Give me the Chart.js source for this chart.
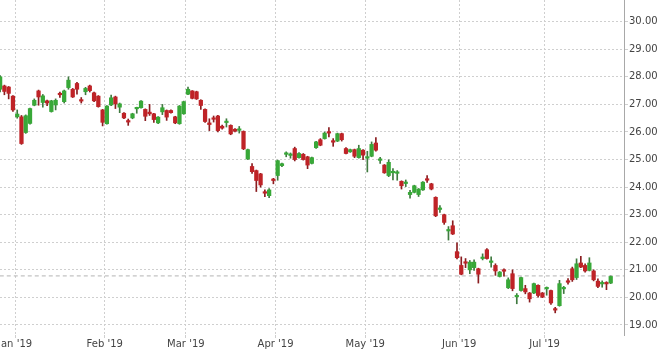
<!DOCTYPE html>
<html>
<head>
<meta charset="utf-8">
<script src="https://cdn.jsdelivr.net/npm/chart.js@4.4.1/dist/chart.umd.min.js"></script>
<style>
  html, body { margin: 0; padding: 0; background: #fff; }
  #wrap { width: 660px; height: 351px; }
</style>
</head>
<body>
<div id="wrap"><canvas id="priceChart" width="660" height="351"></canvas></div>
<script>
// daily candles, last days of Dec 2018 to late Jul 2019 (index = trading day)
const opens = [
  27.55, 27.67, 27.63, 27.30, 26.55, 26.55, 25.98, 26.31, 26.97, 27.49,
  27.07, 27.13, 26.74, 26.98, 27.38, 27.10, 27.61, 27.55, 27.76, 27.15,
  27.46, 27.67, 27.42, 27.30, 26.80, 26.30, 26.98, 27.27, 26.90, 26.68,
  26.39, 26.51, 26.84, 26.88, 26.82, 26.72, 26.66, 26.33, 26.73, 26.78,
  26.78, 26.55, 26.30, 26.66, 27.37, 27.49, 27.46, 27.15, 26.82, 26.33,
  26.50, 26.58, 26.21, 26.34, 26.24, 26.10, 26.06, 26.02, 25.02, 24.75,
  24.60, 24.48, 23.80, 23.69, 24.26, 24.42, 24.78, 25.19, 25.15, 25.40,
  25.07, 25.19, 25.10, 24.86, 25.43, 25.72, 25.76, 26.00, 25.66, 25.67,
  25.94, 25.40, 25.28, 25.36, 25.07, 25.34, 25.05, 25.12, 25.60, 24.97,
  24.80, 24.42, 24.52, 24.50, 24.21, 24.13, 23.73, 23.81, 23.73, 23.90,
  24.27, 24.12, 23.63, 23.19, 23.00, 22.41, 22.60, 21.66, 21.16, 21.26,
  21.00, 21.08, 21.04, 21.41, 21.73, 21.27, 21.16, 20.76, 20.97, 20.35,
  20.86, 20.02, 20.25, 20.32, 20.16, 20.16, 20.44, 20.16, 20.31, 20.25,
  19.56, 19.70, 20.31, 20.57, 21.04, 20.72, 21.25, 21.16, 20.98, 20.96,
  20.59, 20.49, 20.51, 20.52
];
const highs = [
  28.05, 27.70, 27.65, 27.32, 26.80, 26.60, 26.62, 26.87, 27.20, 27.52,
  27.36, 27.16, 27.15, 27.20, 27.45, 27.52, 28.00, 27.58, 27.80, 27.25,
  27.62, 27.70, 27.45, 27.32, 26.82, 26.96, 27.34, 27.30, 27.05, 26.70,
  26.47, 26.68, 26.90, 27.14, 26.84, 27.00, 26.68, 26.56, 27.00, 26.80,
  26.80, 26.57, 26.96, 27.12, 27.63, 27.50, 27.48, 27.17, 26.84, 26.48,
  26.58, 26.60, 26.25, 26.48, 26.26, 26.12, 26.20, 26.04, 25.38, 24.85,
  24.62, 24.50, 23.90, 23.95, 24.32, 24.98, 24.87, 25.28, 25.24, 25.45,
  25.25, 25.22, 25.12, 25.09, 25.66, 25.76, 26.00, 26.16, 25.76, 25.96,
  25.96, 25.43, 25.38, 25.38, 25.52, 25.36, 25.30, 25.64, 25.80, 25.08,
  24.82, 24.99, 24.67, 24.60, 24.23, 24.26, 23.88, 24.07, 23.95, 24.20,
  24.42, 24.14, 23.65, 23.33, 23.02, 22.57, 22.78, 21.98, 21.47, 21.41,
  21.34, 21.36, 21.06, 21.58, 21.77, 21.47, 21.22, 20.94, 21.04, 20.71,
  21.00, 20.14, 20.74, 20.44, 20.18, 20.52, 20.46, 20.18, 20.38, 20.27,
  19.64, 20.62, 20.40, 20.68, 21.10, 21.40, 21.49, 21.22, 21.44, 21.00,
  20.67, 20.60, 20.57, 20.78
];
const lows = [
  27.45, 27.35, 27.20, 26.75, 26.50, 25.55, 25.95, 26.28, 26.95, 26.97,
  26.90, 26.95, 26.72, 26.80, 27.25, 27.05, 27.55, 27.25, 27.37, 27.05,
  27.35, 27.45, 27.10, 26.90, 26.22, 26.28, 26.95, 26.85, 26.70, 26.48,
  26.24, 26.48, 26.68, 26.86, 26.41, 26.60, 26.35, 26.30, 26.63, 26.42,
  26.68, 26.30, 26.28, 26.64, 27.35, 27.20, 27.18, 26.82, 26.35, 26.05,
  26.36, 26.00, 26.10, 26.18, 25.90, 26.00, 25.96, 25.36, 25.00, 24.50,
  23.84, 24.00, 23.65, 23.62, 24.12, 24.25, 24.74, 25.10, 25.05, 24.95,
  25.05, 24.98, 24.67, 24.84, 25.40, 25.50, 25.74, 25.82, 25.48, 25.65,
  25.67, 25.20, 25.26, 25.07, 25.05, 25.00, 24.55, 25.10, 25.30, 24.86,
  24.50, 24.38, 24.26, 24.25, 23.93, 24.02, 23.60, 23.79, 23.66, 23.88,
  24.17, 23.90, 22.93, 23.08, 22.65, 22.08, 22.28, 21.40, 20.82, 21.08,
  20.86, 20.98, 20.52, 21.36, 21.39, 21.10, 20.80, 20.74, 20.77, 20.32,
  20.24, 19.77, 20.23, 20.13, 19.83, 20.14, 20.01, 19.99, 20.08, 19.75,
  19.44, 19.68, 20.14, 20.48, 20.58, 20.65, 21.08, 20.92, 20.96, 20.60,
  20.35, 20.37, 20.28, 20.50
];
const closes = [
  28.00, 27.47, 27.40, 26.80, 26.65, 25.58, 26.59, 26.85, 27.15, 27.27,
  27.31, 27.05, 27.13, 27.15, 27.35, 27.49, 27.88, 27.27, 27.55, 27.12,
  27.58, 27.50, 27.13, 26.92, 26.35, 26.94, 27.24, 27.02, 27.02, 26.51,
  26.36, 26.66, 26.86, 27.12, 26.57, 26.66, 26.45, 26.54, 26.88, 26.54,
  26.70, 26.33, 26.94, 27.10, 27.55, 27.22, 27.20, 26.96, 26.38, 26.27,
  26.46, 26.05, 26.14, 26.36, 25.93, 26.03, 26.08, 25.39, 25.36, 24.56,
  24.24, 24.08, 23.78, 23.90, 24.24, 24.96, 24.85, 25.21, 25.17, 25.00,
  25.22, 25.00, 24.80, 25.07, 25.64, 25.52, 25.96, 25.96, 25.63, 25.94,
  25.72, 25.22, 25.36, 25.12, 25.40, 25.16, 25.07, 25.55, 25.34, 24.99,
  24.52, 24.90, 24.54, 24.55, 24.05, 24.15, 23.81, 24.05, 23.93, 24.18,
  24.25, 23.93, 22.96, 23.21, 22.72, 22.43, 22.30, 21.44, 20.84, 21.24,
  21.28, 21.28, 20.84, 21.43, 21.41, 21.29, 20.96, 20.92, 20.95, 20.64,
  20.32, 20.04, 20.72, 20.20, 19.95, 20.50, 20.07, 20.01, 20.33, 19.80,
  19.54, 20.50, 20.33, 20.55, 20.64, 21.22, 21.10, 20.96, 21.25, 20.64,
  20.40, 20.51, 20.49, 20.76
];

// x axis: month label and index of that month's first trading day
const monthLabels = ["Jan '19", "Feb '19", "Mar '19", "Apr '19", "May '19", "Jun '19", "Jul '19"];
const monthFirstDay = [4, 25, 44, 65, 86, 108, 128];
const priceTicks = [19, 20, 21, 22, 23, 24, 25, 26, 27, 28, 29, 30];
const lastPrice = 20.78;

const UP = '#38a838', DOWN = '#bf2327';
const UP_WICK = '#3f7a3f', DOWN_WICK = '#8a1c1f';

const wicks = [], bodies = [], bodyColors = [], wickColors = [];
for (let i = 0; i < opens.length; i++) {
    const up = closes[i] >= opens[i];
    wicks.push({ x: i, y: [lows[i], highs[i]] });
    bodies.push({ x: i, y: [opens[i], closes[i]] });
    bodyColors.push(up ? UP : DOWN);
    wickColors.push(up ? UP_WICK : DOWN_WICK);
}

// no extra room for edge labels: the first month label is cut off like the original
const noEdgePadding = scale => {
    scale.paddingTop = 0;
    scale.paddingBottom = 0;
    scale.paddingLeft = 0;
    scale.paddingRight = 0;
};

Chart.defaults.font.family = "'DejaVu Sans', Verdana, sans-serif";
Chart.defaults.font.size = 10;
Chart.defaults.color = '#444';

const ctx = document.getElementById('priceChart').getContext('2d');
new Chart(ctx, {
    type: 'bar',
    data: {
        datasets: [
            {
                label: 'body',
                data: bodies,
                backgroundColor: bodyColors,
                borderWidth: 0,
                barThickness: 3.6,
                minBarLength: 1.5,
                grouped: false,
                order: 0
            },
            {
                label: 'wick',
                data: wicks,
                backgroundColor: wickColors,
                borderWidth: 0,
                barThickness: 1,
                grouped: false,
                order: 1
            },
            {
                type: 'line',
                label: 'last',
                data: [{ x: -5, y: lastPrice }, { x: 160, y: lastPrice }],
                borderColor: '#b4b4b4',
                borderWidth: 1,
                borderDash: [4, 3],
                pointRadius: 0,
                order: 2
            }
        ]
    },
    options: {
        responsive: false,
        animation: false,
        devicePixelRatio: 1,
        layout: { padding: 0 },
        plugins: {
            legend: { display: false },
            tooltip: { enabled: false }
        },
        scales: {
            x: {
                type: 'linear',
                min: -0.03,
                max: 146.11,
                offset: false,
                afterBuildTicks: scale => {
                    scale.ticks = monthFirstDay.map(d => ({ value: d - 0.5 }));
                },
                afterFit: scale => {
                    scale.height = 16;
                    noEdgePadding(scale);
                },
                grid: {
                    offset: false,
                    color: '#cfcfcf',
                    lineWidth: 1,
                    tickLength: 3
                },
                border: { display: false, dash: [2, 2] },
                ticks: {
                    autoSkip: false,
                    maxRotation: 0,
                    padding: 0,
                    color: '#444',
                    callback: (v, i) => monthLabels[i]
                }
            },
            y: {
                position: 'right',
                min: 18.637,
                max: 30.787,
                afterBuildTicks: scale => {
                    scale.ticks = priceTicks.map(v => ({ value: v }));
                },
                afterFit: scale => {
                    scale.width = 36;
                    noEdgePadding(scale);
                },
                grid: {
                    color: '#cfcfcf',
                    lineWidth: 1,
                    tickLength: 4
                },
                border: { display: true, color: '#a8a8a8', width: 1, dash: [2, 2] },
                ticks: {
                    padding: 1,
                    color: '#444',
                    callback: v => v.toFixed(2)
                }
            }
        }
    }
});
</script>
</body>
</html>
